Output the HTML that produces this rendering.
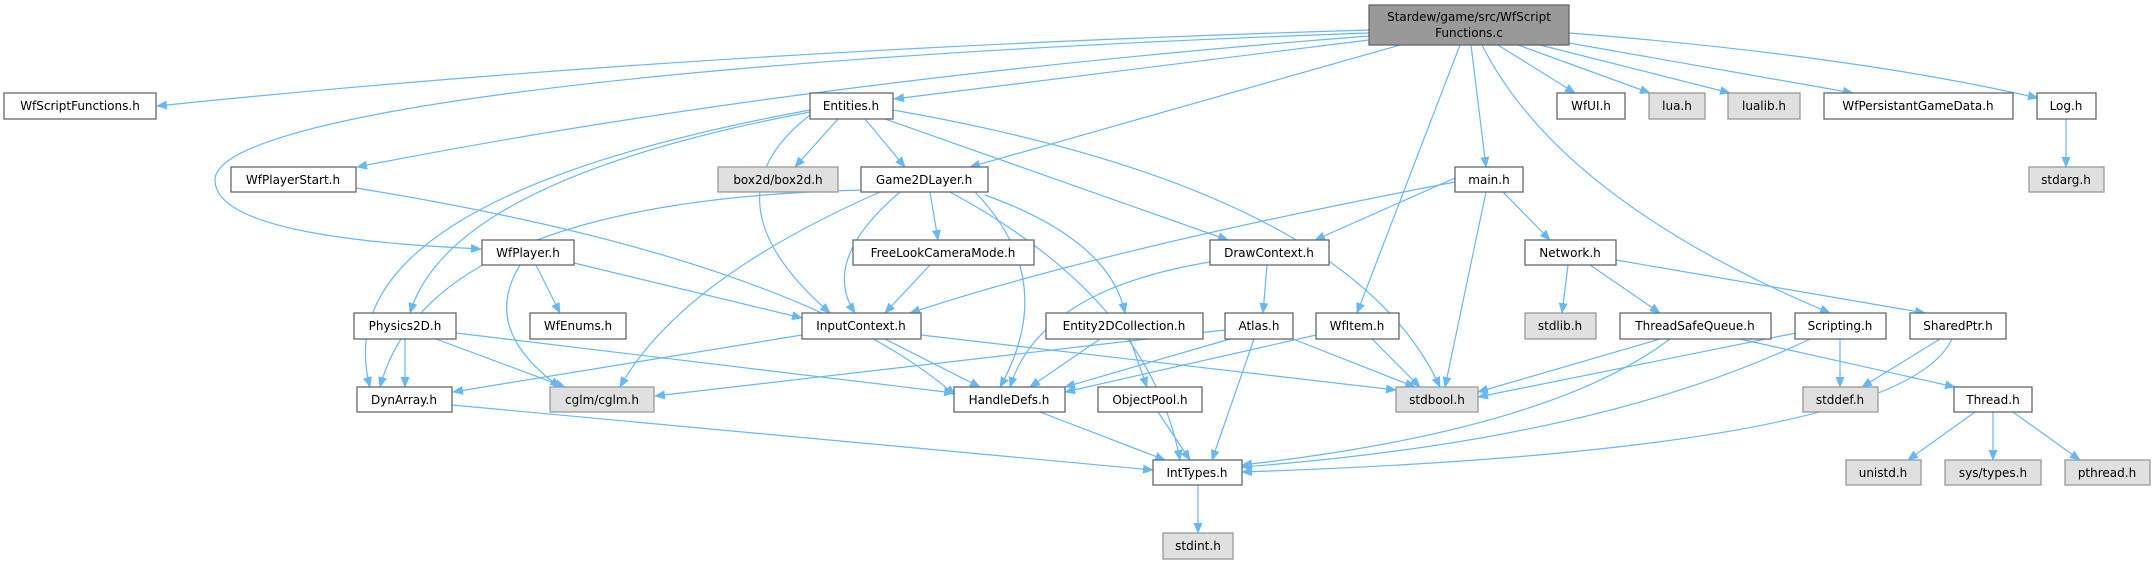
<!DOCTYPE html>
<html><head><meta charset="utf-8"><style>
html,body{margin:0;padding:0;background:#fff;}
svg{display:block;}
text{font-family:"DejaVu Sans","Liberation Sans",sans-serif;font-size:12px;fill:#000;text-anchor:middle;}
.e{fill:none;stroke:#63b8ff;stroke-width:1.2;marker-end:url(#a);}
.n{fill:#fff;stroke:#666;stroke-width:1.3;}
.g{fill:#e0e0e0;stroke:#999;stroke-width:1.3;}
.r{fill:#999;stroke:#666;stroke-width:1.3;}
</style></head><body>
<svg width="2155" height="564" viewBox="0 0 2155 564" xmlns="http://www.w3.org/2000/svg">
<defs><marker id="a" markerUnits="userSpaceOnUse" markerWidth="11" markerHeight="9" refX="10" refY="4.5" orient="auto"><path d="M0,0 L11,4.5 L0,9 z" fill="#63b8ff"/></marker></defs>
<g>
<path class="e" d="M1369,30 Q700,50 157,106"/>
<path class="e" d="M1369,36 Q800,80 357,167"/>
<path class="e" d="M1369,33 C600,60 215,120 215,180 C215,235 400,245 481,249"/>
<path class="e" d="M1369,40 L894,99"/>
<path class="e" d="M1400,45 L970,167"/>
<path class="e" d="M1471,45 L1486,167"/>
<path class="e" d="M1460,45 L1357,313"/>
<path class="e" d="M1482,45 Q1560,200 1830,313"/>
<path class="e" d="M1498,45 L1575,93"/>
<path class="e" d="M1518,45 L1650,93"/>
<path class="e" d="M1540,45 L1730,93"/>
<path class="e" d="M1569,43 L1853,93"/>
<path class="e" d="M1569,33 Q1850,55 2038,98"/>
<path class="e" d="M838,119 L795,167"/>
<path class="e" d="M865,119 L905,167"/>
<path class="e" d="M885,119 L1228,240"/>
<path class="e" d="M893,110 Q1350,190 1440,387"/>
<path class="e" d="M810,115 Q700,200 830,313"/>
<path class="e" d="M810,112 Q450,180 410,313"/>
<path class="e" d="M810,110 Q320,200 370,387"/>
<path class="e" d="M930,192 L938,240"/>
<path class="e" d="M900,192 Q820,260 855,313"/>
<path class="e" d="M975,192 Q1060,280 1000,387"/>
<path class="e" d="M950,192 Q1150,300 1180,460"/>
<path class="e" d="M880,192 Q680,280 620,387"/>
<path class="e" d="M864,190 Q430,200 380,387"/>
<path class="e" d="M985,195 Q1110,240 1125,313"/>
<path class="e" d="M930,265 L885,313"/>
<path class="e" d="M1267,265 L1263,313"/>
<path class="e" d="M1210,262 Q1040,290 1010,387"/>
<path class="e" d="M1455,178 L1315,240"/>
<path class="e" d="M1455,182 Q1100,250 910,313"/>
<path class="e" d="M1503,192 L1550,240"/>
<path class="e" d="M1486,192 L1445,387"/>
<path class="e" d="M1568,265 L1562,313"/>
<path class="e" d="M1590,265 L1660,313"/>
<path class="e" d="M1616,260 L1925,313"/>
<path class="e" d="M574,263 L802,318"/>
<path class="e" d="M536,265 L560,313"/>
<path class="e" d="M520,265 Q480,330 560,387"/>
<path class="e" d="M356,188 Q800,260 955,395"/>
<path class="e" d="M405,339 L405,387"/>
<path class="e" d="M436,339 L565,387"/>
<path class="e" d="M456,333 L954,393"/>
<path class="e" d="M802,335 L453,392"/>
<path class="e" d="M885,339 L980,387"/>
<path class="e" d="M921,335 L1396,390"/>
<path class="e" d="M1100,339 L1030,387"/>
<path class="e" d="M1130,339 L1147,387"/>
<path class="e" d="M1225,330 L655,396"/>
<path class="e" d="M1230,339 L1065,387"/>
<path class="e" d="M1254,339 L1212,460"/>
<path class="e" d="M1293,339 L1415,387"/>
<path class="e" d="M1316,335 L1065,392"/>
<path class="e" d="M1372,339 L1420,387"/>
<path class="e" d="M1660,339 L1478,392"/>
<path class="e" d="M1670,339 Q1550,430 1242,465"/>
<path class="e" d="M1740,339 L1955,387"/>
<path class="e" d="M1796,333 L1478,397"/>
<path class="e" d="M1810,339 Q1600,440 1242,467"/>
<path class="e" d="M1840,339 L1840,387"/>
<path class="e" d="M1940,339 L1862,387"/>
<path class="e" d="M1952,339 Q1900,450 1242,472"/>
<path class="e" d="M1975,412 L1908,460"/>
<path class="e" d="M1993,412 L1993,460"/>
<path class="e" d="M2013,412 L2080,460"/>
<path class="e" d="M452,405 L1153,470"/>
<path class="e" d="M1040,412 L1165,460"/>
<path class="e" d="M1158,412 L1190,460"/>
<path class="e" d="M1198,485 L1198,533"/>
<path class="e" d="M2066,119 L2066,167"/>
</g>
<g>
<rect class="r" x="1369" y="5" width="200" height="40"/><text x="1469" y="21">Stardew/game/src/WfScript</text><text x="1469" y="37">Functions.c</text>
<rect class="n" x="4" y="93" width="152" height="26"/><text x="80" y="110">WfScriptFunctions.h</text>
<rect class="n" x="810" y="93" width="83" height="26"/><text x="851" y="110">Entities.h</text>
<rect class="n" x="1557" y="93" width="68" height="26"/><text x="1591" y="110">WfUI.h</text>
<rect class="g" x="1649" y="93" width="56" height="26"/><text x="1677" y="110">lua.h</text>
<rect class="g" x="1728" y="93" width="72" height="26"/><text x="1764" y="110">lualib.h</text>
<rect class="n" x="1824" y="93" width="189" height="26"/><text x="1918" y="110">WfPersistantGameData.h</text>
<rect class="n" x="2037" y="93" width="59" height="26"/><text x="2066" y="110">Log.h</text>

<rect class="n" x="231" y="167" width="125" height="25"/><text x="293" y="184">WfPlayerStart.h</text>
<rect class="g" x="718" y="167" width="120" height="25"/><text x="778" y="184">box2d/box2d.h</text>
<rect class="n" x="861" y="167" width="127" height="25"/><text x="924" y="184">Game2DLayer.h</text>
<rect class="n" x="1455" y="167" width="68" height="25"/><text x="1489" y="184">main.h</text>
<rect class="g" x="2029" y="167" width="75" height="25"/><text x="2066" y="184">stdarg.h</text>

<rect class="n" x="482" y="240" width="92" height="25"/><text x="528" y="257">WfPlayer.h</text>
<rect class="n" x="853" y="240" width="181" height="25"/><text x="943" y="257">FreeLookCameraMode.h</text>
<rect class="n" x="1210" y="240" width="119" height="25"/><text x="1269" y="257">DrawContext.h</text>
<rect class="n" x="1525" y="240" width="91" height="25"/><text x="1570" y="257">Network.h</text>

<rect class="n" x="354" y="313" width="102" height="26"/><text x="405" y="330">Physics2D.h</text>
<rect class="n" x="530" y="313" width="96" height="26"/><text x="578" y="330">WfEnums.h</text>
<rect class="n" x="802" y="313" width="119" height="26"/><text x="861" y="330">InputContext.h</text>
<rect class="n" x="1046" y="313" width="157" height="26"/><text x="1124" y="330">Entity2DCollection.h</text>
<rect class="n" x="1225" y="313" width="68" height="26"/><text x="1259" y="330">Atlas.h</text>
<rect class="n" x="1316" y="313" width="83" height="26"/><text x="1357" y="330">WfItem.h</text>
<rect class="g" x="1525" y="313" width="71" height="26"/><text x="1560" y="330">stdlib.h</text>
<rect class="n" x="1620" y="313" width="151" height="26"/><text x="1695" y="330">ThreadSafeQueue.h</text>
<rect class="n" x="1795" y="313" width="91" height="26"/><text x="1840" y="330">Scripting.h</text>
<rect class="n" x="1910" y="313" width="96" height="26"/><text x="1958" y="330">SharedPtr.h</text>

<rect class="n" x="357" y="387" width="95" height="25"/><text x="404" y="404">DynArray.h</text>
<rect class="g" x="550" y="387" width="104" height="25"/><text x="602" y="404">cglm/cglm.h</text>
<rect class="n" x="954" y="387" width="111" height="25"/><text x="1009" y="404">HandleDefs.h</text>
<rect class="n" x="1098" y="387" width="104" height="25"/><text x="1150" y="404">ObjectPool.h</text>
<rect class="g" x="1396" y="387" width="82" height="25"/><text x="1437" y="404">stdbool.h</text>
<rect class="g" x="1803" y="387" width="75" height="25"/><text x="1840" y="404">stddef.h</text>
<rect class="n" x="1954" y="387" width="78" height="25"/><text x="1993" y="404">Thread.h</text>

<rect class="n" x="1153" y="460" width="89" height="25"/><text x="1197" y="477">IntTypes.h</text>
<rect class="g" x="1846" y="460" width="75" height="25"/><text x="1883" y="477">unistd.h</text>
<rect class="g" x="1945" y="460" width="96" height="25"/><text x="1993" y="477">sys/types.h</text>
<rect class="g" x="2065" y="460" width="85" height="25"/><text x="2107" y="477">pthread.h</text>

<rect class="g" x="1163" y="533" width="70" height="26"/><text x="1198" y="550">stdint.h</text>
</g>
</svg>
</body></html>
